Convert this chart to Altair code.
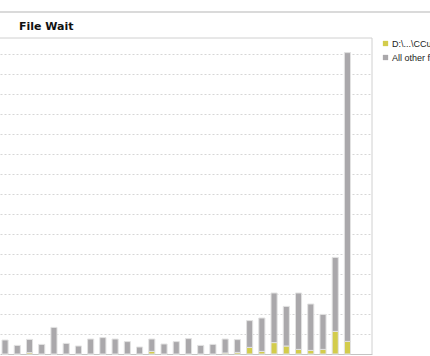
import altair as alt
import pandas as pd

# ---- data (units = one gridline step) ----
slots = [f"{i:02d}" for i in range(1, 30)]
file_values = [0, 0, 0.07, 0, 0, 0, 0, 0, 0, 0, 0, 0, 0.13, 0, 0, 0, 0, 0,
               0.05, 0.08, 0.33, 0.13, 0.57, 0.40, 0.23, 0.18, 0.23, 1.13, 0.63]
other_values = [0.70, 0.43, 0.66, 0.48, 1.33, 0.53, 0.40, 0.75, 0.82, 0.75,
                0.62, 0.35, 0.62, 0.50, 0.62, 0.77, 0.43, 0.48, 0.70, 0.64,
                1.34, 1.67, 2.48, 1.98, 2.82, 2.32, 1.75, 3.70, 14.44]
series_names = ["D:\\...\\CCurrentDB.mdf", "All other files"]
series_colors = ["#d3cc4c", "#aaa8ab"]
chart_title = "File Wait"

rows = []
for s, a, b in zip(slots, file_values, other_values):
    rows.append({"slot": s, "series": series_names[0], "value": a, "ord": 0})
    rows.append({"slot": s, "series": series_names[1], "value": b, "ord": 1})
df = pd.DataFrame(rows)

W, H = 372, 316
one = pd.DataFrame({"k": [0]})

bars = alt.Chart(df).mark_bar(stroke="#e2e2e2", strokeWidth=1).encode(
    x=alt.X("slot:N", sort=slots,
            scale=alt.Scale(paddingInner=0.5, paddingOuter=0.96, align=0.085),
            axis=alt.Axis(title=None, labels=False, ticks=False, grid=False,
                          domainColor="#c4c4c4", domainWidth=1)),
    y=alt.Y("value:Q", stack="zero",
            scale=alt.Scale(domain=[0, 15.8], nice=False, zero=True),
            axis=alt.Axis(title=None, labels=False, ticks=False, domain=False,
                          values=list(range(1, 16)), grid=True,
                          gridColor="#d6d6d6", gridDash=[2, 2], gridWidth=1)),
    color=alt.Color("series:N",
                    scale=alt.Scale(domain=series_names, range=series_colors),
                    legend=alt.Legend(title=None, orient="none", legendX=381, legendY=1,
                                      symbolType="square", symbolSize=28,
                                      symbolStrokeWidth=0, labelFontSize=9,
                                      labelFont="Liberation Sans", labelColor="#222222",
                                      labelOffset=2, rowPadding=4, padding=0,
                                      labelLimit=300)),
    order=alt.Order("ord:Q", sort="ascending"),
)

top_line = alt.Chart(one).mark_rule(color="#b5b5b5", strokeWidth=1).encode(
    x=alt.value(0), x2=alt.value(430), y=alt.value(-26))
frame_top = alt.Chart(one).mark_rule(color="#d0d0d0", strokeWidth=1).encode(
    x=alt.value(0), x2=alt.value(W), y=alt.value(0))
frame_right = alt.Chart(one).mark_rule(color="#d0d0d0", strokeWidth=1).encode(
    x=alt.value(W), y=alt.value(0), y2=alt.value(H))
title = alt.Chart(one).mark_text(text=chart_title, font="DejaVu Sans", fontSize=11,
                                 fontWeight="bold", color="#111111",
                                 align="left", baseline="alphabetic").encode(
    x=alt.value(19), y=alt.value(-8))

chart = alt.layer(bars, top_line, frame_top, frame_right, title).properties(
    width=W, height=H,
    autosize=alt.AutoSizeParams(type="none"),
    padding={"left": 0, "top": 38, "right": 430 - W, "bottom": 356 - 38 - H},
    background="white",
).configure_view(stroke=None)

chart.save("out.html", embed_options={"renderer": "svg", "actions": False})
